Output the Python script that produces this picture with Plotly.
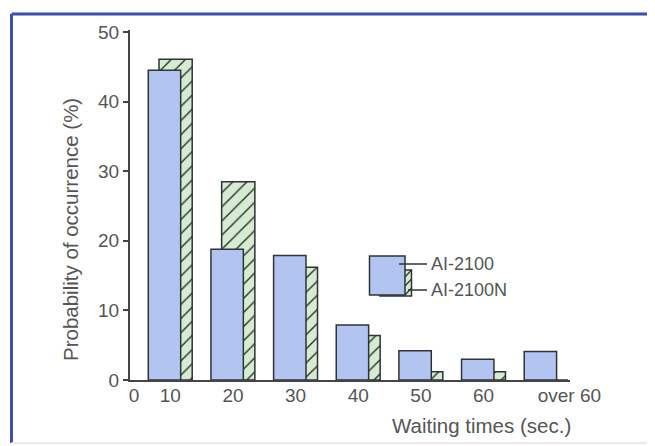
import plotly.graph_objects as go

# ---- data ----
categories = ["10", "20", "30", "40", "50", "60", "over 60"]
ai2100 = [44.5, 18.8, 17.9, 7.9, 4.2, 3.0, 4.1]
ai2100n = [46.1, 28.5, 16.2, 6.4, 1.2, 1.2, 0.0]
y_ticks = [0, 10, 20, 30, 40, 50]
series_names = ["AI-2100", "AI-2100N"]

# page body has an 8px margin; compensate so the window shows the same layout
OFF = 8
W, H = 655 - OFF, 446 - OFF
L, R, T, B = 130 - OFF, 85, 30 - OFF, 66
x_range = [-0.643, 6.38]
y_range = [0, 50.3]

idx = list(range(len(categories)))

BLUE = "#b2c5f0"
GREEN = "#d6ecd2"
EDGE = "#2f3333"
TXT = "#555555"
FONT = "Liberation Sans, Arial, sans-serif"

fig = go.Figure()
fig.add_trace(go.Bar(
    x=idx, y=ai2100n, name=series_names[1], offset=-0.18, width=0.53,
    marker=dict(color=GREEN, line=dict(color=EDGE, width=1.5),
                pattern=dict(shape="/", bgcolor=GREEN, fgcolor="#2a2f2a",
                             size=10, solidity=0.14, fillmode="replace")),
    showlegend=False))
fig.add_trace(go.Bar(
    x=idx, y=ai2100, name=series_names[0], offset=-0.351, width=0.517,
    marker=dict(color=BLUE, line=dict(color=EDGE, width=1.5)),
    showlegend=False))

tickvals = [-0.58] + idx[:-1] + [6.37]
ticktext = ["0"] + categories

fig.update_layout(
    width=W, height=H, barmode="overlay",
    margin=dict(l=L, r=R, t=T, b=B),
    paper_bgcolor="white", plot_bgcolor="white",
    font=dict(family=FONT, color=TXT, size=19),
    xaxis=dict(range=x_range, tickmode="array", tickvals=tickvals, ticktext=ticktext,
               showgrid=False, zeroline=False, showline=True, linecolor="#444",
               linewidth=2, ticks="", tickfont=dict(size=19, color=TXT),
               ticklabelstandoff=-3),
    yaxis=dict(range=y_range, tickmode="array", tickvals=y_ticks, showgrid=False,
               zeroline=False, showline=True, linecolor="#444", linewidth=2,
               ticks="outside", ticklen=5, tickcolor="#444", tickwidth=1.5,
               tickfont=dict(size=19, color=TXT)),
)

def px2paper(px, py):
    # px, py are window pixel coordinates
    px -= OFF
    py -= OFF
    return (px - L) / (W - L - R), (H - B - py) / (H - T - B)

# titles
x, y = px2paper(481, 425)
fig.add_annotation(text="Waiting times (sec.)", x=x, y=y, xref="paper", yref="paper",
                   xanchor="center", yanchor="middle",
                   showarrow=False, font=dict(size=20.5, color=TXT))
x, y = px2paper(70, 230)
fig.add_annotation(text="Probability of occurrence (%)", x=x, y=y, xref="paper", yref="paper",
                   xanchor="center", yanchor="middle",
                   showarrow=False, textangle=-90, font=dict(size=20.5, color=TXT))

shapes = []
def rect(x0, y0, x1, y1, fill, lw=1.5):
    a0, b0 = px2paper(x0, y1)
    a1, b1 = px2paper(x1, y0)
    shapes.append(dict(type="rect", xref="paper", yref="paper", x0=a0, y0=b0, x1=a1, y1=b1,
                       fillcolor=fill, line=dict(color=EDGE, width=lw)))
def line(x0, y0, x1, y1, color=EDGE, w=1.5):
    a0, b0 = px2paper(x0, y0)
    a1, b1 = px2paper(x1, y1)
    shapes.append(dict(type="line", xref="paper", yref="paper", x0=a0, y0=b0, x1=a1, y1=b1,
                       line=dict(color=color, width=w)))

# legend swatches
rect(380, 270, 411.5, 296, GREEN)
for k in range(3):
    yb = 296 - k * 9
    line(405, yb - 1, 411.5, yb - 8, w=1.2)
rect(369.5, 256, 405, 295, BLUE)
line(399, 264, 427, 264)
line(408, 290, 427, 290)
for i, name in enumerate(series_names):
    x, y = px2paper(429, 264 + 26 * i)
    fig.add_annotation(text=name, x=x, y=y, xref="paper", yref="paper", showarrow=False,
                       xanchor="left", yanchor="middle", font=dict(size=18, color=TXT))

# frame
x0, y0 = px2paper(11.5, 14)
x1, y1 = px2paper(660, 443)
shapes.append(dict(type="line", xref="paper", yref="paper", x0=x0, y0=y0, x1=x1, y1=y0,
                   line=dict(color="#3b4fae", width=3)))
shapes.append(dict(type="line", xref="paper", yref="paper", x0=x0, y0=y0, x1=x0, y1=y1,
                   line=dict(color="#3b4fae", width=3)))
shapes.append(dict(type="line", xref="paper", yref="paper", x0=x0, y0=y1, x1=x1, y1=y1,
                   line=dict(color="#f3e6ea", width=2)))

fig.update_layout(shapes=shapes)
fig.write_html("out.html")
